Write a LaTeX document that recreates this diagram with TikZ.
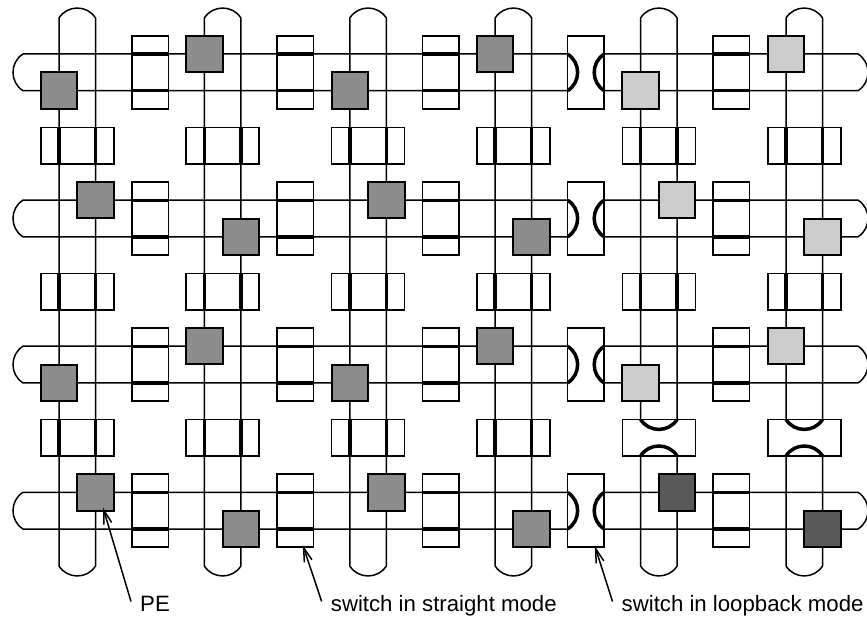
\documentclass[tikz,border=0pt]{standalone}
\usepackage{fontspec}
\setmainfont{Liberation Sans}
\usetikzlibrary{arrows.meta, positioning, backgrounds}

\begin{document}
\begin{tikzpicture}[
        x=1pt, y=-1pt,
        node distance=108.8pt,
        looseness=1.1,
        wire/.style={line width=1.5pt},
        arrow/.style={-{Straight Barb[length=14pt, width=8pt]}, line width=1.5pt},
        thickline/.style={line width=3.5pt},
        pe/.style={draw, line width=2pt, fill=black!45, minimum size=36.5pt, inner sep=0pt, outer sep=0pt},
        pelight/.style={pe, fill=black!20},
        pedark/.style={pe, fill=black!65},
        swbox/.style={draw, line width=1.5pt, fill=white, inner sep=0pt, outer sep=0pt},
        hsw/.style={swbox, minimum width=36.5pt, minimum height=73pt, path picture={
            \draw[thickline] ([yshift=18.25pt]path picture bounding box.west) -- ([yshift=18.25pt]path picture bounding box.east);
            \draw[thickline] ([yshift=-18.25pt]path picture bounding box.west) -- ([yshift=-18.25pt]path picture bounding box.east);
        }},
        vsw/.style={swbox, minimum width=73pt, minimum height=36.5pt, path picture={
            \draw[thickline] ([xshift=-18.25pt]path picture bounding box.north) -- ([xshift=-18.25pt]path picture bounding box.south);
            \draw[thickline] ([xshift=18.25pt]path picture bounding box.north) -- ([xshift=18.25pt]path picture bounding box.south);
        }},
        hloop/.style={swbox, minimum width=36.5pt, minimum height=73pt, path picture={
            \draw[thickline] ([yshift=18.25pt]path picture bounding box.west) to[bend left=58] ([yshift=-18.25pt]path picture bounding box.west);
            \draw[thickline] ([yshift=18.25pt]path picture bounding box.east) to[bend right=58] ([yshift=-18.25pt]path picture bounding box.east);
        }},
        vloop/.style={swbox, minimum width=73pt, minimum height=36.5pt, path picture={
            \draw[thickline] ([xshift=-18.25pt]path picture bounding box.north) to[bend right=58] ([xshift=18.25pt]path picture bounding box.north);
            \draw[thickline] ([xshift=-18.25pt]path picture bounding box.south) to[bend left=58] ([xshift=18.25pt]path picture bounding box.south);
        }},
        lbl/.style={anchor=base west, font=\fontsize{22.2}{24}\selectfont, inner xsep=9pt, inner ysep=0pt, text height=20pt, text depth=0pt}
    ]
    \useasboundingbox (0,0) rectangle (867,618);

    % Processing elements
    \node [pe](p11) at (59,90.7) {};
    \node [pe](p12) at (204.4,54) {};
    \node [pe](p13) at (349.8,90.7) {};
    \node [pe](p14) at (495.2,54) {};
    \node [pelight](p15) at (640.6,90.7) {};
    \node [pelight](p16) at (786,54) {};

    \node [pe](p21) at (95.5,200.1) {};
    \node [pe](p22) at (240.9,236.8) {};
    \node [pe](p23) at (386.3,200.1) {};
    \node [pe](p24) at (531.7,236.8) {};
    \node [pelight](p25) at (677.1,200.1) {};
    \node [pelight](p26) at (822.5,236.8) {};

    \node [pe](p31) at (59,382.9) {};
    \node [pe](p32) at (204.4,346.2) {};
    \node [pe](p33) at (349.8,382.9) {};
    \node [pe](p34) at (495.2,346.2) {};
    \node [pelight](p35) at (640.6,382.9) {};
    \node [pelight](p36) at (786,346.2) {};

    \node [pe](p41) at (95.5,492.3) {};
    \node [pe](p42) at (240.9,529) {};
    \node [pe](p43) at (386.3,492.3) {};
    \node [pe](p44) at (531.7,529) {};
    \node [pedark](p45) at (677.1,492.3) {};
    \node [pedark](p46) at (822.5,529) {};

    % Switches between the columns
    \node [hsw](h11) at (150,72.4) {};
    \node [hsw](h12) [right=of h11] {};
    \node [hsw](h13) [right=of h12] {};
    \node [hloop](h14) [right=of h13] {};
    \node [hsw](h15) [right=of h14] {};

    \node [hsw](h21) [below=73.1pt of h11] {};
    \node [hsw](h22) [right=of h21] {};
    \node [hsw](h23) [right=of h22] {};
    \node [hloop](h24) [right=of h23] {};
    \node [hsw](h25) [right=of h24] {};

    \node [hsw](h31) [below=73.1pt of h21] {};
    \node [hsw](h32) [right=of h31] {};
    \node [hsw](h33) [right=of h32] {};
    \node [hloop](h34) [right=of h33] {};
    \node [hsw](h35) [right=of h34] {};

    \node [hsw](h41) [below=73.1pt of h31] {};
    \node [hsw](h42) [right=of h41] {};
    \node [hsw](h43) [right=of h42] {};
    \node [hloop](h44) [right=of h43] {};
    \node [hsw](h45) [right=of h44] {};

    % Switches between the rows
    \node [vsw](v11) at (77.25,145.5) {};
    \node [vsw](v12) [right=72.4pt of v11] {};
    \node [vsw](v13) [right=72.4pt of v12] {};
    \node [vsw](v14) [right=72.4pt of v13] {};
    \node [vsw](v15) [right=72.4pt of v14] {};
    \node [vsw](v16) [right=72.4pt of v15] {};

    \node [vsw](v21) [below=109.6pt of v11] {};
    \node [vsw](v22) [right=72.4pt of v21] {};
    \node [vsw](v23) [right=72.4pt of v22] {};
    \node [vsw](v24) [right=72.4pt of v23] {};
    \node [vsw](v25) [right=72.4pt of v24] {};
    \node [vsw](v26) [right=72.4pt of v25] {};

    \node [vsw](v31) [below=109.6pt of v21] {};
    \node [vsw](v32) [right=72.4pt of v31] {};
    \node [vsw](v33) [right=72.4pt of v32] {};
    \node [vsw](v34) [right=72.4pt of v33] {};
    \node [vloop](v35) [right=72.4pt of v34] {};
    \node [vloop](v36) [right=72.4pt of v35] {};

    % Where the rings turn back
    \coordinate (capt) at (0,18);
    \coordinate (capb) at (0,566);
    \coordinate (capl) at (23,0);
    \coordinate (capr) at (858,0);

    \begin{pgfonlayer}{background}
    % Rings of the rows
    \draw[wire] (h14.west |- p12) -- (capl |- p12) to[bend right=58] (capl |- p11) -- (h14.west |- p11);
    \draw[wire] (h14.east |- p12) -- (capr |- p12) to[bend left=58] (capr |- p11) -- (h14.east |- p11);
    \draw[wire] (h24.west |- p21) -- (capl |- p21) to[bend right=58] (capl |- p22) -- (h24.west |- p22);
    \draw[wire] (h24.east |- p21) -- (capr |- p21) to[bend left=58] (capr |- p22) -- (h24.east |- p22);
    \draw[wire] (h34.west |- p32) -- (capl |- p32) to[bend right=58] (capl |- p31) -- (h34.west |- p31);
    \draw[wire] (h34.east |- p32) -- (capr |- p32) to[bend left=58] (capr |- p31) -- (h34.east |- p31);
    \draw[wire] (h44.west |- p41) -- (capl |- p41) to[bend right=58] (capl |- p42) -- (h44.west |- p42);
    \draw[wire] (h44.east |- p41) -- (capr |- p41) to[bend left=58] (capr |- p42) -- (h44.east |- p42);

    % Rings of the columns
    \draw[wire] (p11 |- capb) -- (p11 |- capt) to[bend left=58] (p21 |- capt) -- (p21 |- capb) to[bend left=58] cycle;
    \draw[wire] (p12 |- capb) -- (p12 |- capt) to[bend left=58] (p22 |- capt) -- (p22 |- capb) to[bend left=58] cycle;
    \draw[wire] (p13 |- capb) -- (p13 |- capt) to[bend left=58] (p23 |- capt) -- (p23 |- capb) to[bend left=58] cycle;
    \draw[wire] (p14 |- capb) -- (p14 |- capt) to[bend left=58] (p24 |- capt) -- (p24 |- capb) to[bend left=58] cycle;
    \draw[wire] (p15 |- v35.north) -- (p15 |- capt) to[bend left=58] (p25 |- capt) -- (p25 |- v35.north);
    \draw[wire] (p15 |- v35.south) -- (p15 |- capb) to[bend right=58] (p25 |- capb) -- (p25 |- v35.south);
    \draw[wire] (p16 |- v36.north) -- (p16 |- capt) to[bend left=58] (p26 |- capt) -- (p26 |- v36.north);
    \draw[wire] (p16 |- v36.south) -- (p16 |- capb) to[bend right=58] (p26 |- capb) -- (p26 |- v36.south);
    \end{pgfonlayer}

    % Labels and their arrows
    \node [lbl](lpe) at (131,611.5) {PE};
    \node [lbl](lstraight) at (321.7,611.5) {switch in straight mode};
    \node [lbl](lloop) at (612.5,611.5) {switch in loopback mode};
    \draw[arrow] (lpe.west) -- ([xshift=7.5pt,yshift=3pt]p41.south);
    \draw[arrow] (lstraight.west) -- ([xshift=7.5pt,yshift=2pt]h42.south);
    \draw[arrow] (lloop.west) -- ([xshift=9pt,yshift=1pt]h44.south);

\end{tikzpicture}
\end{document}
